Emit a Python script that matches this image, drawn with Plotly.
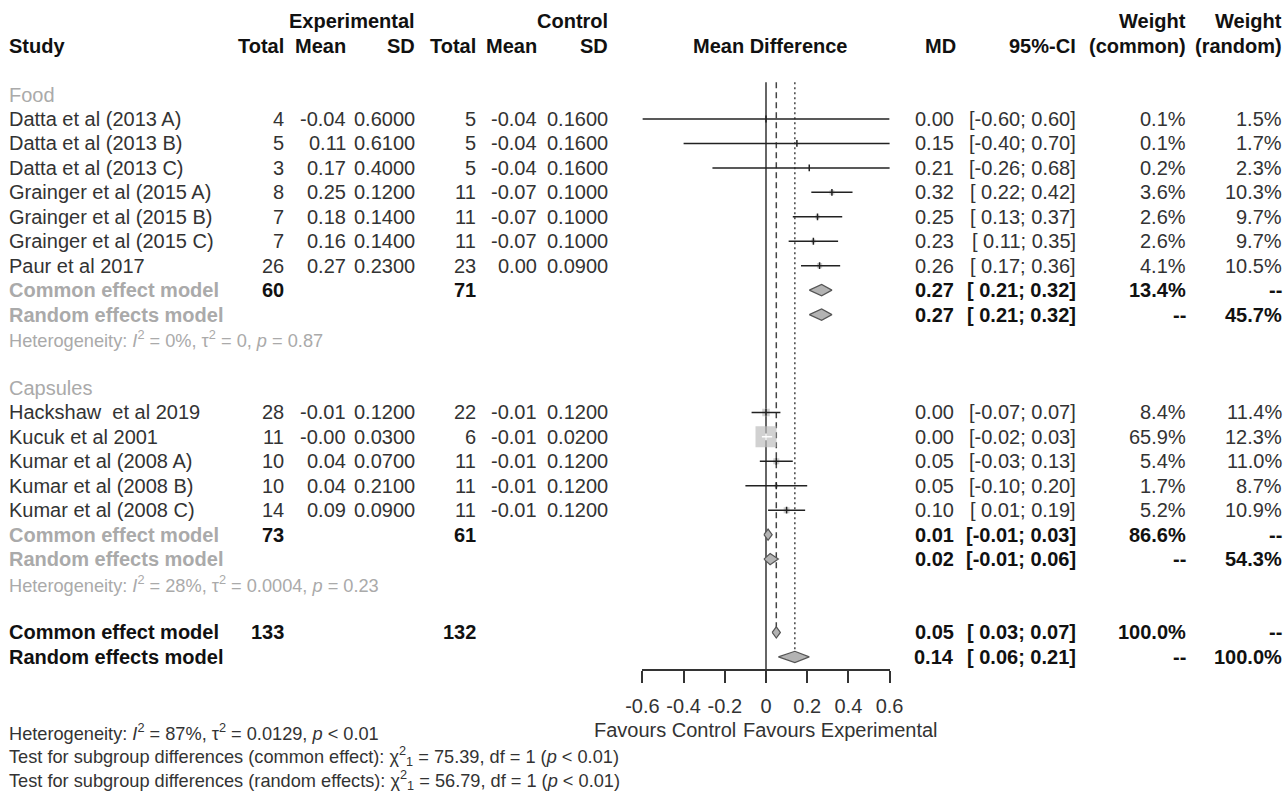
import plotly.graph_objects as go
import math

# ---------------- data ----------------
food_names = ["Datta et al (2013 A)", "Datta et al (2013 B)", "Datta et al (2013 C)",
              "Grainger et al (2015 A)", "Grainger et al (2015 B)", "Grainger et al (2015 C)",
              "Paur et al 2017"]
food_exp_n = [4, 5, 3, 8, 7, 7, 26]
food_exp_mean = [-0.04, 0.11, 0.17, 0.25, 0.18, 0.16, 0.27]
food_exp_sd = [0.60, 0.61, 0.40, 0.12, 0.14, 0.14, 0.23]
food_ctl_n = [5, 5, 5, 11, 11, 11, 23]
food_ctl_mean = [-0.04, -0.04, -0.04, -0.07, -0.07, -0.07, 0.00]
food_ctl_sd = [0.16, 0.16, 0.16, 0.10, 0.10, 0.10, 0.09]
food_md = [0.00, 0.15, 0.21, 0.32, 0.25, 0.23, 0.26]
food_lo = [-0.60, -0.40, -0.26, 0.22, 0.13, 0.11, 0.17]
food_hi = [0.60, 0.70, 0.68, 0.42, 0.37, 0.35, 0.36]
food_w_common = [0.1, 0.1, 0.2, 3.6, 2.6, 2.6, 4.1]
food_w_random = [1.5, 1.7, 2.3, 10.3, 9.7, 9.7, 10.5]

caps_names = ["Hackshaw\u00a0 et al 2019", "Kucuk et al 2001", "Kumar et al (2008 A)",
              "Kumar et al (2008 B)", "Kumar et al (2008 C)"]
caps_exp_n = [28, 11, 10, 10, 14]
caps_exp_mean = [-0.01, -0.0, 0.04, 0.04, 0.09]
caps_exp_sd = [0.12, 0.03, 0.07, 0.21, 0.09]
caps_ctl_n = [22, 6, 11, 11, 11]
caps_ctl_mean = [-0.01, -0.01, -0.01, -0.01, -0.01]
caps_ctl_sd = [0.12, 0.02, 0.12, 0.12, 0.12]
caps_md = [0.00, 0.00, 0.05, 0.05, 0.10]
caps_lo = [-0.07, -0.02, -0.03, -0.10, 0.01]
caps_hi = [0.07, 0.03, 0.13, 0.20, 0.19]
caps_w_common = [8.4, 65.9, 5.4, 1.7, 5.2]
caps_w_random = [11.4, 12.3, 11.0, 8.7, 10.9]

model_labels = ["Common effect model", "Random effects model"]
food_sum_md = [0.27, 0.27]
food_sum_lo = [0.21, 0.21]
food_sum_hi = [0.32, 0.32]
food_sum_wc = ["13.4%", "--"]
food_sum_wr = ["--", "45.7%"]
food_tot = [60, 71]
caps_sum_md = [0.01, 0.02]
caps_sum_lo = [-0.01, -0.01]
caps_sum_hi = [0.03, 0.06]
caps_sum_wc = ["86.6%", "--"]
caps_sum_wr = ["--", "54.3%"]
caps_tot = [73, 61]
all_sum_md = [0.05, 0.14]
all_sum_lo = [0.03, 0.06]
all_sum_hi = [0.07, 0.21]
all_sum_wc = ["100.0%", "--"]
all_sum_wr = ["--", "100.0%"]
all_tot = [133, 132]

het_I2 = ["0%", "28%", "87%"]
het_tau2 = ["0", "0.0004", "0.0129"]
het_p = ["= 0.87", "= 0.23", "&lt; 0.01"]
test_chi2 = ["75.39", "56.79"]
test_df = [1, 1]
test_p = ["&lt; 0.01", "&lt; 0.01"]

x_ticks = [-0.6, -0.4, -0.2, 0, 0.2, 0.4, 0.6]
x_ticktext = ["-0.6", "-0.4", "-0.2", "0", "0.2", "0.4", "0.6"]

# ---------------- layout constants ----------------
W, H = 1287, 793
FONT = "Liberation Sans, Arial, sans-serif"
Y0, STEP = 119.0, 24.45          # pixel of row 0, row height
X_ZERO, X_SCALE = 766.0, 206.0    # forest: pixel of 0, pixels per unit
DARK, GREY, BLACK = "#333333", "#aaaaaa", "#111111"
FS, FS_SMALL = 20, 18.2

def row_of(py):
    return (py - Y0) / STEP

col = dict(study=8, etot=285, emean=347, esd=416, ctot=477, cmean=538, csd=609,
           md=955, ci=1077, wc=1187, wr=1283)

annots = []

def txt(xpx, row, s, anchor="right", color=DARK, size=FS, bold=False):
    if bold:
        s = "<b>" + s + "</b>"
    annots.append(dict(x=xpx / W, xref="paper", y=row, yref="y", text=s, showarrow=False,
                       xanchor=anchor, yanchor="middle", borderpad=0,
                       font=dict(family=FONT, size=size, color=color)))

def ci_str(lo, hi):
    return "[" + f"{lo:5.2f}" + "; " + f"{hi:.2f}" + "]"

# ---------------- headers ----------------
txt(col["esd"], -4, "Experimental", bold=True, color=BLACK)
txt(col["csd"], -4, "Control", bold=True, color=BLACK)
txt(col["wc"], -4, "Weight", bold=True, color=BLACK)
txt(col["wr"], -4, "Weight", bold=True, color=BLACK)
txt(col["study"], -3, "Study", anchor="left", bold=True, color=BLACK)
for k, s in [("etot", "Total"), ("emean", "Mean"), ("esd", "SD"), ("ctot", "Total"),
             ("cmean", "Mean"), ("csd", "SD"), ("md", "MD"), ("ci", "95%-CI"),
             ("wc", "(common)"), ("wr", "(random)")]:
    txt(col[k] + (2 if k == "md" else 0), -3, s, bold=True, color=BLACK)
txt(X_ZERO + 4, -3, "Mean Difference", anchor="center", bold=True, color=BLACK)

# ---------------- rows ----------------
groups = [
    dict(name="Food", names=food_names, en=food_exp_n, em=food_exp_mean, es=food_exp_sd,
         cn=food_ctl_n, cm=food_ctl_mean, cs=food_ctl_sd, md=food_md, lo=food_lo, hi=food_hi,
         wc=food_w_common, wr=food_w_random, smd=food_sum_md, slo=food_sum_lo, shi=food_sum_hi,
         swc=food_sum_wc, swr=food_sum_wr, tot=food_tot, het=0),
    dict(name="Capsules", names=caps_names, en=caps_exp_n, em=caps_exp_mean, es=caps_exp_sd,
         cn=caps_ctl_n, cm=caps_ctl_mean, cs=caps_ctl_sd, md=caps_md, lo=caps_lo, hi=caps_hi,
         wc=caps_w_common, wr=caps_w_random, smd=caps_sum_md, slo=caps_sum_lo, shi=caps_sum_hi,
         swc=caps_sum_wc, swr=caps_sum_wr, tot=caps_tot, het=1),
]

study_rows, study_md, study_lo, study_hi, study_w = [], [], [], [], []
diamonds = []  # (row, md, lo, hi)
row = -1
for g in groups:
    txt(col["study"], row, g["name"], anchor="left", color=GREY)
    row += 1
    for i, nm in enumerate(g["names"]):
        txt(col["study"], row, nm, anchor="left")
        txt(col["etot"], row, str(g["en"][i]))
        txt(col["emean"], row, f"{g['em'][i]:.2f}")
        txt(col["esd"], row, f"{g['es'][i]:.4f}")
        txt(col["ctot"], row, str(g["cn"][i]))
        txt(col["cmean"], row, f"{g['cm'][i]:.2f}")
        txt(col["csd"], row, f"{g['cs'][i]:.4f}")
        txt(col["md"], row, f"{g['md'][i]:.2f}")
        txt(col["ci"], row, ci_str(g["lo"][i], g["hi"][i]))
        txt(col["wc"], row, f"{g['wc'][i]:.1f}%")
        txt(col["wr"], row, f"{g['wr'][i]:.1f}%")
        study_rows.append(row); study_md.append(g["md"][i]); study_lo.append(g["lo"][i])
        study_hi.append(g["hi"][i]); study_w.append(g["wc"][i])
        row += 1
    for j, lab in enumerate(model_labels):
        txt(col["study"], row, lab, anchor="left", color=GREY, bold=True)
        if j == 0:
            txt(col["etot"], row, str(g["tot"][0]), bold=True, color=BLACK)
            txt(col["ctot"], row, str(g["tot"][1]), bold=True, color=BLACK)
        txt(col["md"], row, f"{g['smd'][j]:.2f}", bold=True, color=BLACK)
        txt(col["ci"], row, ci_str(g["slo"][j], g["shi"][j]), bold=True, color=BLACK)
        txt(col["wc"], row, g["swc"][j], bold=True, color=BLACK)
        txt(col["wr"], row, g["swr"][j], bold=True, color=BLACK)
        diamonds.append((row, g["smd"][j], g["slo"][j], g["shi"][j]))
        row += 1
    k = g["het"]
    txt(col["study"], row, f"Heterogeneity: <i>I</i><sup>2</sup> = {het_I2[k]}, τ<sup>2</sup> = {het_tau2[k]}, <i>p</i> {het_p[k]}",
        anchor="left", color=GREY, size=FS_SMALL)
    row += 2

# overall
overall_rows = []
for j, lab in enumerate(model_labels):
    txt(col["study"], row, lab, anchor="left", color=BLACK, bold=True)
    if j == 0:
        txt(col["etot"], row, str(all_tot[0]), bold=True, color=BLACK)
        txt(col["ctot"], row, str(all_tot[1]), bold=True, color=BLACK)
    txt(col["md"], row, f"{all_sum_md[j]:.2f}", bold=True, color=BLACK)
    txt(col["ci"], row, ci_str(all_sum_lo[j], all_sum_hi[j]), bold=True, color=BLACK)
    txt(col["wc"], row, all_sum_wc[j], bold=True, color=BLACK)
    txt(col["wr"], row, all_sum_wr[j], bold=True, color=BLACK)
    diamonds.append((row, all_sum_md[j], all_sum_lo[j], all_sum_hi[j]))
    overall_rows.append(row)
    row += 1

# bottom texts
txt(col["study"], row_of(732), f"Heterogeneity: <i>I</i><sup>2</sup> = {het_I2[2]}, τ<sup>2</sup> = {het_tau2[2]}, <i>p</i> {het_p[2]}",
    anchor="left", size=FS_SMALL)
for j, kind in enumerate(["common effect", "random effects"]):
    txt(col["study"], row_of(756 + 23.5 * j),
        f"Test for subgroup differences ({kind}): χ<sup>2</sup><sub>1</sub> = {test_chi2[j]}, df = {test_df[j]} (<i>p</i> {test_p[j]})",
        anchor="left", size=FS_SMALL)
txt(737, row_of(730), "Favours Control", anchor="right")
txt(742, row_of(730), "Favours Experimental", anchor="left")

# ---------------- figure ----------------
fig = go.Figure()
top_row = -1.5
axis_row = row_of(670)

# reference lines
fig.add_trace(go.Scatter(x=[0, 0], y=[top_row, axis_row], mode="lines",
                         line=dict(color=DARK, width=1.5), hoverinfo="skip"))
fig.add_trace(go.Scatter(x=[all_sum_md[0]] * 2, y=[top_row, overall_rows[0]], mode="lines",
                         line=dict(color="#444444", width=1.5, dash="6px,4px"), hoverinfo="skip"))
fig.add_trace(go.Scatter(x=[all_sum_md[1]] * 2, y=[top_row, overall_rows[1]], mode="lines",
                         line=dict(color="#444444", width=1.5, dash="2px,3px"), hoverinfo="skip"))

# squares (area proportional to common-effect weight)
max_w = max(study_w)
sizes = [21 * math.sqrt(w / max_w) for w in study_w]
fig.add_trace(go.Scatter(x=study_md, y=study_rows, mode="markers",
                         marker=dict(symbol="square", size=sizes, color="#bdbdbd", line=dict(width=0)),
                         hoverinfo="skip"))

# CI lines & tick at estimate: white if CI lies inside the square
tick_h = 0.14
bx, by, wx, wy = [], [], [], []
for r, m, lo, hi, s in zip(study_rows, study_md, study_lo, study_hi, sizes):
    inside = (hi - lo) * X_SCALE < s
    xs, ys = (wx, wy) if inside else (bx, by)
    xs += [lo, hi, None, m, m, None]
    ys += [r, r, None, r - tick_h, r + tick_h, None]
fig.add_trace(go.Scatter(x=bx, y=by, mode="lines", line=dict(color="#222222", width=1.5), hoverinfo="skip"))
fig.add_trace(go.Scatter(x=wx, y=wy, mode="lines", line=dict(color="white", width=1.5), hoverinfo="skip"))

# diamonds
dh = 0.23
for r, m, lo, hi in diamonds:
    fig.add_trace(go.Scatter(x=[lo, m, hi, m, lo], y=[r, r - dh, r, r + dh, r], mode="lines",
                             fill="toself", fillcolor="#b3b3b3",
                             line=dict(color="#555555", width=1.2), hoverinfo="skip"))

x0_px = X_ZERO + x_ticks[0] * X_SCALE
x1_px = X_ZERO + x_ticks[-1] * X_SCALE
fig.update_layout(
    width=W, height=H, margin=dict(l=0, r=0, t=0, b=0, pad=0, autoexpand=False),
    paper_bgcolor="white", plot_bgcolor="white", showlegend=False,
    annotations=annots,
    xaxis=dict(domain=[x0_px / W, x1_px / W], range=[x_ticks[0], x_ticks[-1]],
               anchor="free", position=1 - 670 / H, automargin=False,
               tickvals=x_ticks, ticktext=x_ticktext, ticks="outside", ticklen=12,
               tickwidth=1.5, tickcolor=DARK, showline=True, linecolor=DARK, linewidth=1.5,
               showgrid=False, zeroline=False, ticklabelstandoff=6,
               tickfont=dict(family=FONT, size=FS, color=DARK)),
    yaxis=dict(domain=[0, 1], range=[row_of(H), row_of(0)], visible=False, automargin=False,
               showgrid=False, zeroline=False),
)

fig.write_html("out.html", config={"displayModeBar": False},
               post_script="document.body.style.margin='0px';document.body.style.overflow='hidden';")
